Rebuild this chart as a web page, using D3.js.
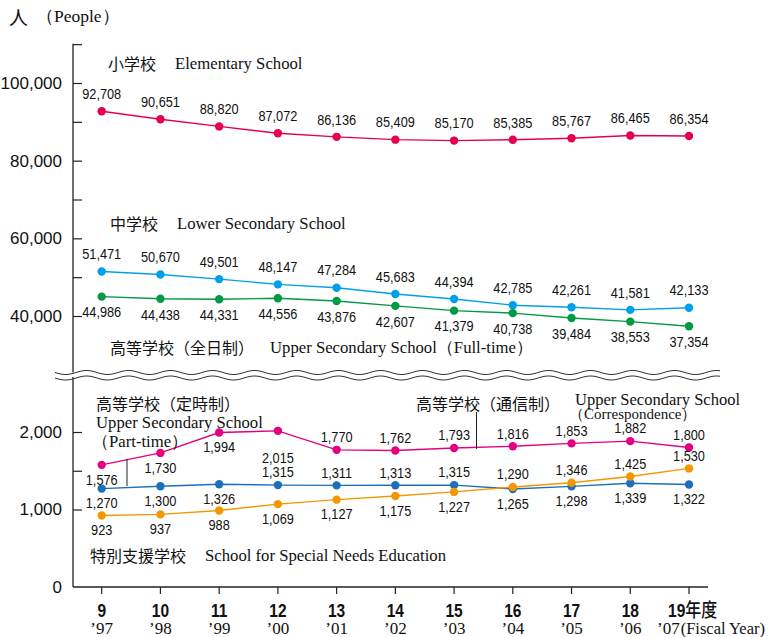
<!DOCTYPE html>
<html><head><meta charset="utf-8">
<script src="https://cdn.jsdelivr.net/npm/d3@7"></script>
<style>
body{margin:0;background:#fff;}
svg{display:block;}
.jp{font-family:"Noto Sans CJK JP","Noto Sans",sans-serif;}
.en{font-family:"Liberation Serif","DejaVu Serif",serif;}
.num{font-family:"Liberation Sans",Arial,sans-serif;}
</style></head>
<body>
<svg id="chart" width="770" height="637"></svg>
<script>
// ---- data ----
const years = ["9","10","11","12","13","14","15","16","17","18","19"];
const yearsWestern = ["’97","’98","’99","’00","’01","’02","’03","’04","’05","’06","’07"];
const elementary = [92708,90651,88820,87072,86136,85409,85170,85385,85767,86465,86354];
const lowerSecondary = [51471,50670,49501,48147,47284,45683,44394,42785,42261,41581,42133];
const upperFullTime = [44986,44438,44331,44556,43876,42607,41379,40738,39484,38553,37354];
const upperPartTime = [1576,1730,1994,2015,1770,1762,1793,1816,1853,1882,1800];
const specialNeeds = [1270,1300,1326,1315,1311,1313,1315,1265,1298,1339,1322];
const upperCorrespondence = [923,937,988,1069,1127,1175,1227,1290,1346,1425,1530];
const topTicks = [40000,50000,60000,70000,80000,90000,100000,110000];
const topTickLabels = [40000,60000,80000,100000];
const bottomTicks = [1000,1500,2000];
const bottomTickLabels = [0,1000,2000];

const svg = d3.select("#chart");
const fmt = d3.format(",");

const x = d3.scalePoint().domain(years).range([101.7, 689]);
const yTop = d3.scaleLinear().domain([40000,100000]).range([316,83]);
const yBot = d3.scaleLinear().domain([0,2000]).range([587,432]);
const axisX = 73;

// axis lines
svg.append("line").attr("x1",axisX).attr("x2",axisX).attr("y1",yTop(110000)-0.5).attr("y2",372.5).attr("stroke","#222").attr("stroke-width",1.3);
svg.append("line").attr("x1",axisX).attr("x2",axisX).attr("y1",377).attr("y2",yBot(0)).attr("stroke","#222").attr("stroke-width",1.3);
svg.append("line").attr("x1",axisX).attr("x2",708).attr("y1",yBot(0)).attr("y2",yBot(0)).attr("stroke","#222").attr("stroke-width",1.3);

// left axes via d3
const gTop = svg.append("g").attr("transform",`translate(${axisX},0)`)
  .call(d3.axisLeft(yTop).tickValues(topTicks).tickSize(-9).tickPadding(11)
    .tickFormat(d => topTickLabels.includes(d) ? fmt(d) : ""));
const gBot = svg.append("g").attr("transform",`translate(${axisX},0)`)
  .call(d3.axisLeft(yBot).tickValues(bottomTicks.concat([0])).tickSize(-9).tickPadding(11)
    .tickFormat(d => bottomTickLabels.includes(d) ? fmt(d) : ""));
[gTop,gBot].forEach(g=>{
  g.select(".domain").remove();
  g.selectAll(".tick line").attr("stroke","#222").attr("stroke-width",1.2);
  g.selectAll(".tick text").attr("font-size",17).attr("fill","#111")
    .style("font-family","'Liberation Sans',Arial,sans-serif");
});
gBot.selectAll(".tick").filter(d=>d===0).select("line").remove();

// x axis ticks and labels
const gx = svg.append("g");
years.forEach((yr,i)=>{
  const xx = x(yr);
  gx.append("line").attr("x1",xx).attr("x2",xx).attr("y1",yBot(0)).attr("y2",yBot(0)+7).attr("stroke","#222").attr("stroke-width",1.2);
  const last = i===years.length-1;
  const t = gx.append("text")
    .attr("transform", `translate(${last ? xx-21 : xx},617) scale(0.84,1)`)
    .attr("text-anchor", last ? "start" : "middle").attr("fill","#111");
  t.append("tspan").attr("class","num").attr("font-size",18.5).attr("font-weight","bold").text(yr);
  if (last) t.append("tspan").attr("class","jp").attr("font-size",19).attr("font-weight",500).text("年度");
  const t2 = gx.append("text").attr("class","en")
    .attr("x", last ? xx-32 : xx).attr("y",634).attr("text-anchor", last ? "start":"middle")
    .attr("font-size",17).attr("fill","#111").text(yearsWestern[i]);
  if (last) t2.append("tspan").attr("font-size",16.5).attr("dx",1).text("(Fiscal Year)");
});

// wave break
function wave(y0){
  const pts = d3.range(55,721,1).map(px=>[px, y0 + 2*Math.sin((px-55)/42*2*Math.PI)]);
  return d3.line()(pts);
}
svg.append("path").attr("d",wave(372.5)).attr("fill","none").attr("stroke","#333").attr("stroke-width",1);
svg.append("path").attr("d",wave(378)).attr("fill","none").attr("stroke","#333").attr("stroke-width",1);

// series
const series = [
  {vals:elementary, y:yTop, color:"#e6004c", place:"aaaaaaaaaaa"},
  {vals:lowerSecondary, y:yTop, color:"#00a0e9", place:"aaaaaaaaaaa"},
  {vals:upperFullTime, y:yTop, color:"#009944", place:"bbbbbbbbbbb"},
  {vals:upperPartTime, y:yBot, color:"#e4007f", place:"bbbBaaaaaaa"},
  {vals:specialNeeds, y:yBot, color:"#1d6fb8", place:"bbbaaaabbbb"},
  {vals:upperCorrespondence, y:yBot, color:"#f39800", place:"bbbbbbbaaaa"}
];
const line = d3.line();
series.forEach(s=>{
  const pts = s.vals.map((v,i)=>[x(years[i]), s.y(v)]);
  svg.append("path").attr("d",line(pts)).attr("fill","none").attr("stroke",s.color).attr("stroke-width",1.4);
  svg.append("g").selectAll("circle").data(pts).join("circle")
    .attr("cx",d=>d[0]).attr("cy",d=>d[1]).attr("r",4.2).attr("fill",s.color);
  svg.append("g").selectAll("text").data(s.vals).join("text")
    .attr("class","num").attr("font-size",14.5).attr("fill","#111").attr("text-anchor","middle")
    .attr("dominant-baseline","central")
    .attr("transform",(d,i)=>{
      const p = s.place[i];
      const base = s.y(d);
      let yy;
      if (s.y===yTop) yy = base + (p==="a" ? -17 : 16);
      else if (p==="B") yy = base + 27;
      else yy = base + (p==="a" ? -12.5 : 15);
      return `translate(${x(years[i])},${yy}) scale(0.88,1)`;
    })
    .text(d=>fmt(d));
});

// annotations
function label(xp, yp, jp, en, gap, jpSize, enSize){
  const t = svg.append("text").attr("x",xp).attr("y",yp).attr("dominant-baseline","central").attr("fill","#111");
  if (jp) t.append("tspan").attr("class","jp").attr("font-size",jpSize||16).text(jp);
  if (en) t.append("tspan").attr("class","en").attr("font-size",enSize||16.7).attr("dx",gap||0).text(en);
  return t;
}
// title
svg.append("text").attr("x",9).attr("y",16).attr("dominant-baseline","central").attr("class","jp").attr("font-size",19).attr("fill","#111").text("人");
svg.append("text").attr("x",36).attr("y",16).attr("dominant-baseline","central").attr("class","en").attr("font-size",17.5).attr("fill","#111").text("（People）");

label(108, 63, "小学校", "Elementary School", 19);
label(110, 222.5, "中学校", "Lower Secondary School", 19);
label(110, 346.5, "高等学校（全日制）", "Upper Secondary School（Full-time）", 16);
label(96, 403, "高等学校（定時制）", null);
label(96, 421.5, null, "Upper Secondary School", 0);
label(92, 440.5, null, "（Part-time）", 0);
svg.append("line").attr("x1",127).attr("x2",127).attr("y1",459).attr("y2",486).attr("stroke","#222").attr("stroke-width",1);
label(416, 403, "高等学校（通信制）", null);
svg.append("line").attr("x1",476.5).attr("x2",476.5).attr("y1",412).attr("y2",449).attr("stroke","#222").attr("stroke-width",1);
label(575, 398.5, null, "Upper Secondary School", 0, 16, 16.5);
label(569, 413.5, null, "（Correspondence）", 0, 16, 15);
label(90, 555, "特別支援学校", "School for Special Needs Education", 19);
</script>
</body></html>
